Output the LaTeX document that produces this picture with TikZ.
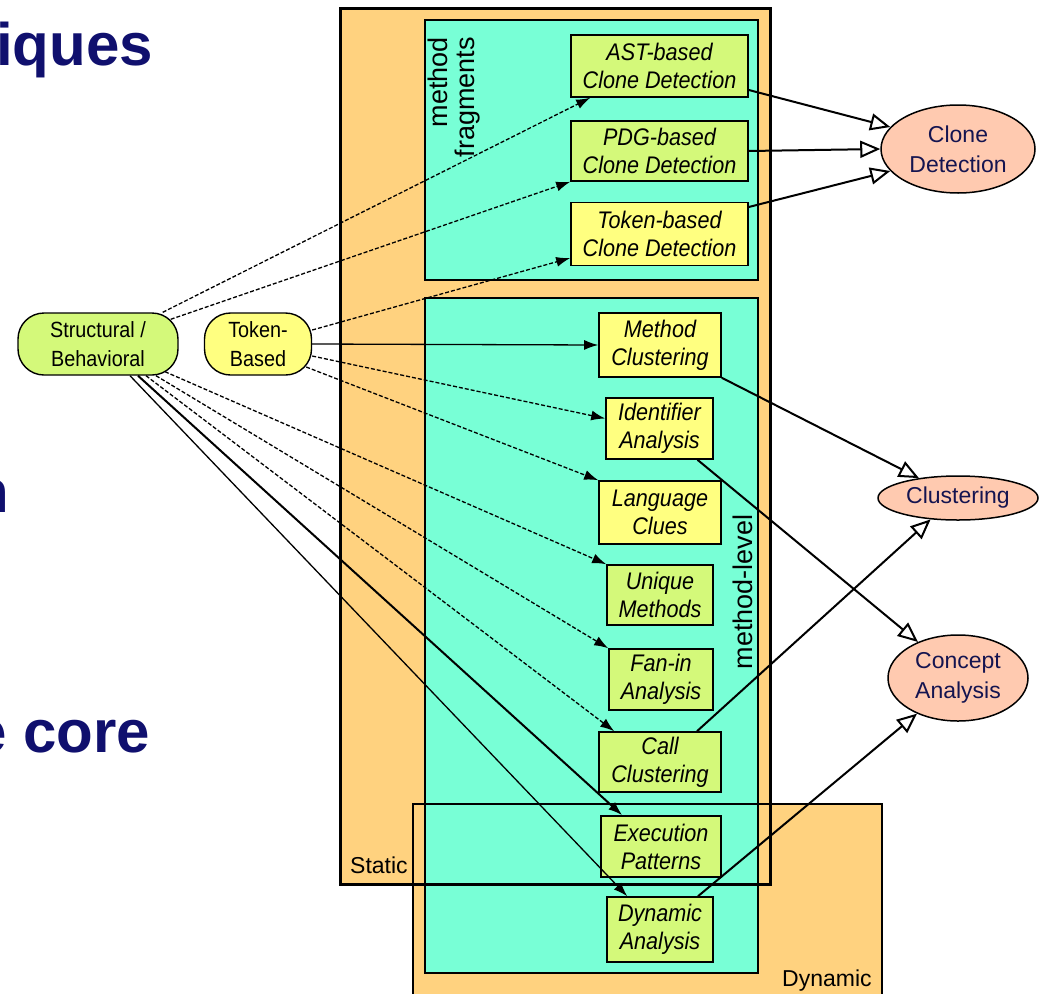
\documentclass[tikz,border=0pt]{standalone}
\usepackage{fontspec}
\setmainfont{Liberation Sans}
\newfontfamily\nodefont[FakeStretch=0.9]{Liberation Sans}
\usetikzlibrary{arrows.meta,shapes.geometric}
\definecolor{stat}{HTML}{FFD27F}
\definecolor{aqua}{HTML}{78FFD6}
\definecolor{gnode}{HTML}{D4F97A}
\definecolor{ynode}{HTML}{FFFF80}
\definecolor{salmon}{HTML}{FFCAB0}
\definecolor{navy}{HTML}{10106E}
\definecolor{goaltext}{HTML}{141450}
\tikzset{
 rbox/.style={draw, line width=1.6pt, inner sep=0pt, align=center, font=\nodefont\itshape\fontsize{24pt}{28pt}\selectfont},
 gbox/.style={rbox, fill=gnode},
 ybox/.style={rbox, fill=ynode},
 src/.style={draw, line width=1.4pt, rounded corners=26pt, inner sep=0pt, align=center, font=\nodefont\fontsize{22pt}{29pt}\selectfont},
 goal/.style={ellipse, draw, line width=1.5pt, fill=salmon, inner sep=0pt, align=center, text=goaltext, font=\fontsize{23pt}{30pt}\selectfont},
 lab/.style={inner sep=0pt, font=\fontsize{23pt}{23pt}\selectfont},
 vlab/.style={inner sep=0pt, rotate=90, align=right, font=\fontsize{27pt}{27pt}\selectfont},
 title/.style={inner sep=0pt, text=navy, font=\fontsize{60pt}{60pt}\selectfont\bfseries},
 feed/.style={line width=1.3pt, -{Latex[length=14pt,width=10pt]}},
 dfeed/.style={feed, dash pattern=on 4pt off 2pt},
 goalarrow/.style={line width=2pt, -{Triangle[length=20pt,width=17pt,fill=white]}},
}
\begin{document}
\begin{tikzpicture}[x=1pt,y=-1pt]
\useasboundingbox (0,0) rectangle (1040,993);
\clip (0,0) rectangle (1040,993);
% slide title fragments
\node[title, anchor=base west] (t1) at (-4,65) {iques};
\node[title, anchor=base east] (t2) at (9,512) {n};
\node[title, anchor=base east] (t3) at (150,752) {e core};
% regions
\fill[stat] (340,8) rectangle (770,884);
\fill[stat] (413,804) rectangle (882,1000);
\fill[aqua] (425,20) rectangle (758,280);
\fill[aqua] (425,298) rectangle (758,973);
\draw[line width=3pt] (340,8) rectangle (770,884);
\draw[line width=1.5pt] (413,804) rectangle (882,1000);
\draw[line width=1.5pt] (425,20) rectangle (758,280);
\draw[line width=1.5pt] (425,298) rectangle (758,973);
\node[lab, anchor=base west] (static) at (350,873) {Static};
\node[lab, anchor=base west] (dynamic) at (782,986) {Dynamic};
\node[vlab, anchor=east] (mf) at (454,37) {method\\fragments};
\node[vlab, anchor=base] (ml) at (752,592) {method-level};
% sources
\node[src, fill=gnode, minimum width=160pt, minimum height=62pt] (S) at (98,344) {Structural /\\Behavioral};
\node[src, fill=ynode, minimum width=107pt, minimum height=62pt] (T) at (258,344) {Token-\\Based};
% techniques
\node[gbox, minimum width=177pt, minimum height=62pt] (ast) at (659.5,66) {AST-based\\Clone Detection};
\node[gbox, minimum width=177pt, minimum height=60pt] (pdg) at (659.5,151) {PDG-based\\Clone Detection};
\node[ybox, minimum width=177pt, minimum height=63pt] (tok) at (659.5,234) {Token-based\\Clone Detection};
\node[ybox, minimum width=122pt, minimum height=64pt] (mclu) at (660,345) {Method\\Clustering};
\node[ybox, minimum width=107pt, minimum height=61pt] (ident) at (659.5,428.5) {Identifier\\Analysis};
\node[ybox, minimum width=122pt, minimum height=63pt] (lang) at (660,512.5) {Language\\Clues};
\node[gbox, minimum width=106pt, minimum height=60pt] (uniq) at (660,595) {Unique\\Methods};
\node[gbox, minimum width=104pt, minimum height=61pt] (fanin) at (661,679.5) {Fan-in\\Analysis};
\node[gbox, minimum width=122pt, minimum height=60pt] (call) at (660,762) {Call\\Clustering};
\node[gbox, minimum width=120pt, minimum height=61pt] (exec) at (661,846.5) {Execution\\Patterns};
\node[gbox, minimum width=106pt, minimum height=65pt] (dyn) at (660,929.5) {Dynamic\\Analysis};
% goals
\node[goal, minimum width=154pt, minimum height=88pt] (clone) at (958,149) {Clone\\Detection};
\node[goal, minimum width=160pt, minimum height=44pt] (clu) at (958,498) {Clustering};
\node[goal, minimum width=140pt, minimum height=86pt] (conc) at (958,678) {Concept\\Analysis};
% source edges
\draw[dfeed] ([xshift=-16pt]S.north east) -- ([xshift=20pt]ast.south west);
\draw[dfeed] ([xshift=-8pt,yshift=-7pt]S.north east) -- (pdg.south west);
\draw[dfeed] ([xshift=67pt,yshift=4pt]S.south) -- (uniq.north west);
\draw[dfeed] ([xshift=58pt]S.south) -- (fanin.north west);
\draw[dfeed] ([xshift=48pt]S.south) -- ([xshift=16pt]call.north west);
\draw[feed, line width=2pt] ([xshift=40pt]S.south) -- ([xshift=22pt]exec.north west);
\draw[feed] ([xshift=32pt]S.south) -- ([xshift=21pt]dyn.north west);
\draw[dfeed] ([yshift=14pt]T.east) -- ([yshift=-24pt]tok.west);
\draw[feed] (T.east) -- (mclu.west);
\draw[dfeed] ([yshift=-12pt]T.east) -- ([yshift=10pt]ident.west);
\draw[dfeed] ([yshift=-23pt,xshift=-6pt]T.east) -- (lang.north west);
% goal edges
\draw[goalarrow] ([yshift=-24pt]ast.east) -- (clone.162);
\draw[goalarrow] (pdg.east) -- (clone.180);
\draw[goalarrow] ([yshift=27pt]tok.east) -- (clone.198);
\draw[goalarrow] (mclu.south east) -- (clu.153);
\draw[goalarrow] ([xshift=37pt]call.north) -- (clu.218);
\draw[goalarrow] ([xshift=38pt]ident.south) -- (conc.138);
\draw[goalarrow] ([xshift=38pt]dyn.north) -- (conc.221);
\end{tikzpicture}
\end{document}
